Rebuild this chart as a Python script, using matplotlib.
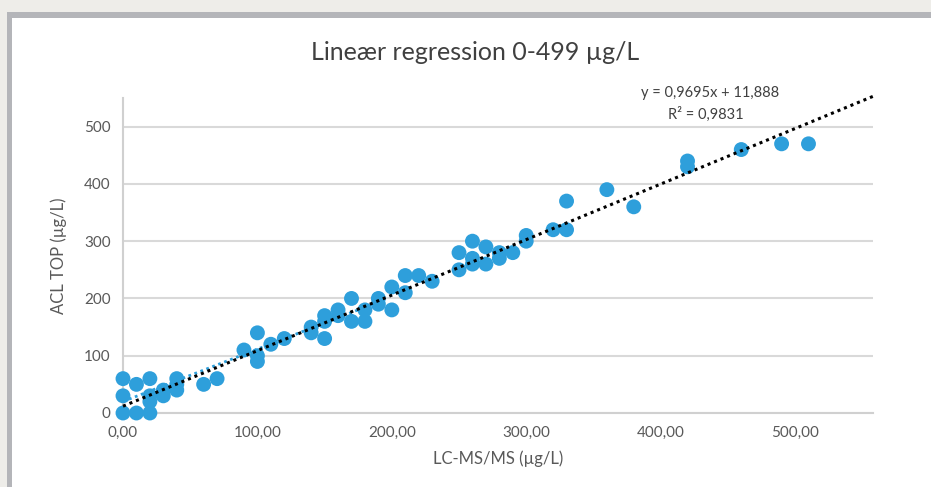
import numpy as np
import matplotlib.pyplot as plt
from matplotlib.patches import Rectangle

# LC-MS/MS vs ACL TOP (µg/L)
lcms = [0, 0, 0, 10, 10, 20, 20, 20, 20, 30, 30, 40, 40, 40, 60, 70,
        90, 100, 100, 100, 110, 120, 140, 140, 150, 150, 150, 160, 160,
        170, 170, 180, 180, 190, 190, 200, 200, 210, 210, 220, 230,
        250, 250, 260, 260, 260, 270, 270, 280, 280, 290, 300, 300,
        320, 330, 330, 360, 380, 420, 420, 460, 490, 510]
acl = [0, 30, 60, 0, 50, 0, 30, 60, 20, 40, 30, 60, 50, 40, 50, 60,
       110, 140, 90, 100, 120, 130, 150, 140, 170, 160, 130, 180, 170,
       200, 160, 180, 160, 200, 190, 220, 180, 240, 210, 240, 230,
       280, 250, 300, 270, 260, 290, 260, 280, 270, 280, 310, 300,
       320, 370, 320, 390, 360, 440, 430, 460, 470, 470]

# trendlines
slope, intercept, r2 = 0.9695, 11.888, 0.9831
slope_low, intercept_low = 0.915, 20.0

blue = "#2e9fdb"
gray_txt = "#595959"
font = "Lato"

fig = plt.figure(figsize=(9.31, 4.87), dpi=100)
fig.patch.set_facecolor("white")
W, H = 931, 487
# outer frame of the screenshot
fig.patches.append(Rectangle((0, 0), 1, 1, transform=fig.transFigure,
                             facecolor="#eeede9", edgecolor="none", zorder=-3))
fig.patches.append(Rectangle((7 / W, 0), 1, (H - 12) / H, transform=fig.transFigure,
                             facecolor="#b4b5b9", edgecolor="none", zorder=-2))
fig.patches.append(Rectangle((12 / W, 0), 1, (H - 18) / H, transform=fig.transFigure,
                             facecolor="white", edgecolor="none", zorder=-1))

ax = fig.add_axes([123 / W, (H - 413) / H, 750 / W, 315 / H])
ax.set_facecolor("none")
ax.set_xlim(0, 558)
ax.set_ylim(0, 550)

ax.scatter(lcms, acl, s=115, color=blue, edgecolors="none", zorder=3, clip_on=False)

xs = np.array([0, 558])
ax.plot(xs, slope * xs + intercept, color="black", linestyle=(0, (1, 1.3)),
        linewidth=2.2, zorder=4, clip_on=False)
xl = np.array([0, 182])
ax.plot(xl, slope_low * xl + intercept_low, color=blue, linestyle=(0, (1, 1.3)),
        linewidth=2.0, zorder=3.5)

ax.set_yticks([0, 100, 200, 300, 400, 500])
ax.set_xticks([0, 100, 200, 300, 400, 500])
ax.set_xticklabels([f"{v:.2f}".replace(".", ",") for v in [0, 100, 200, 300, 400, 500]])
ax.yaxis.grid(True, color="#d9d9d9", linewidth=1.5)
ax.set_axisbelow(True)
for side in ["top", "right"]:
    ax.spines[side].set_visible(False)
ax.spines["left"].set_color("#d0d0d0")
ax.spines["left"].set_linewidth(1.5)
ax.spines["bottom"].set_color("#d0d0d0")
ax.spines["bottom"].set_linewidth(1.5)
ax.tick_params(length=0, labelsize=11, labelcolor=gray_txt, pad=9)
for lab in ax.get_xticklabels() + ax.get_yticklabels():
    lab.set_fontfamily(font)

ax.set_xlabel("LC-MS/MS (µg/L)", fontsize=12, color=gray_txt, family=font, labelpad=8)
ax.set_ylabel("ACL TOP (µg/L)", fontsize=12, color=gray_txt, family=font, labelpad=12)

fig.text(475 / W, 1 - 53 / H, "Lineær regression 0-499 µg/L", ha="center", va="center",
         fontsize=18, color="#404040", family=font)
fig.text(710 / W, 1 - 93 / H, "y = 0,9695x + 11,888", ha="center", va="center",
         fontsize=10.5, color="#404040", family=font)
fig.text(706 / W, 1 - 114 / H, f"R² = {r2}".replace(".", ","), ha="center", va="center",
         fontsize=10.5, color="#404040", family=font)

fig.savefig("out.png", dpi=100)
